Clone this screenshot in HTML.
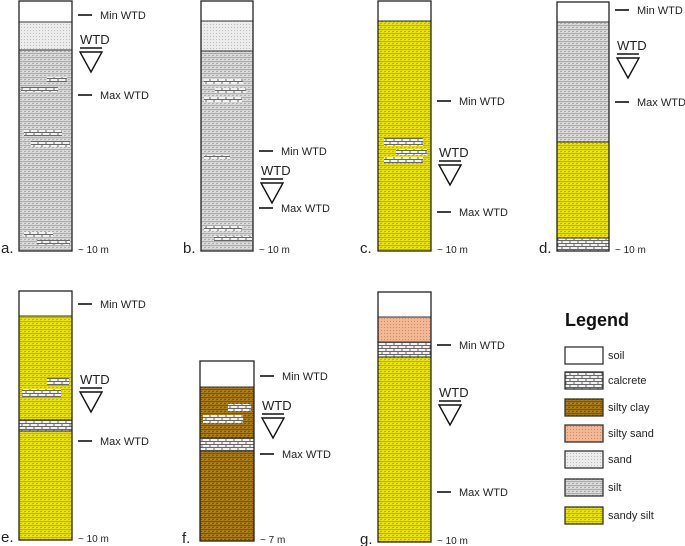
<!DOCTYPE html>
<html><head><meta charset="utf-8"><style>
html,body{margin:0;padding:0;background:#fff;width:685px;height:546px;overflow:hidden}
svg{display:block}
text{font-family:"Liberation Sans",sans-serif;fill:#222}
</style></head><body>
<svg width="685" height="546" viewBox="0 0 685 546">
<defs>
<pattern id="pSand" width="3" height="3" patternUnits="userSpaceOnUse"><rect width="3" height="3" fill="#ececec"/><rect x="0" y="0" width="1" height="1" fill="#bbb"/></pattern>
<pattern id="pSilt" width="4" height="4" patternUnits="userSpaceOnUse"><rect width="4" height="4" fill="#dcdcdc"/><path d="M0 1 L2 2 L4 1 M0 3 L2 4" stroke="#8a8a8a" stroke-width="0.6" fill="none"/></pattern>
<pattern id="pSandySilt" width="4" height="4" patternUnits="userSpaceOnUse"><rect width="4" height="4" fill="#ece600"/><path d="M0 1 L2 2 L4 1 M0 3 L2 4" stroke="#8c8a20" stroke-width="0.6" fill="none"/></pattern>
<pattern id="pClay" width="4" height="4" patternUnits="userSpaceOnUse"><rect width="4" height="4" fill="#b08010"/><path d="M0 1 L2 2 L4 1 M0 3 L2 4" stroke="#5a3e06" stroke-width="0.7" fill="none"/></pattern>
<pattern id="pSiltySand" width="3" height="3" patternUnits="userSpaceOnUse"><rect width="3" height="3" fill="#f3b893"/><rect width="1" height="1" fill="#c98a66"/></pattern>
<pattern id="pCalc" width="8" height="6" patternUnits="userSpaceOnUse"><rect width="8" height="6" fill="#f2f2f2"/><path d="M0 0.5 H8 M0 3.5 H8 M2 0.5 V3.5 M6 3.5 V6" stroke="#666" stroke-width="1" fill="none"/></pattern>
</defs>

<g id="cols"></g>

<g>
<text x="565" y="326" font-size="18" font-weight="bold" style="fill:#111">Legend</text>
</g>
<g id="leg"></g>
</svg>
<script>
const NS='http://www.w3.org/2000/svg';
const fills={soil:'#fff',calcrete:'url(#pCalc)',silty_clay:'url(#pClay)',silty_sand:'url(#pSiltySand)',sand:'url(#pSand)',silt:'url(#pSilt)',sandy_silt:'url(#pSandySilt)'};
function mk(tag,at,parent){const e=document.createElementNS(NS,tag);for(const k in at)e.setAttribute(k,at[k]);parent.appendChild(e);return e;}
const cols=[
 {id:'a',x:19,w:53,top:1,bot:251,layers:[['soil',1,22],['sand',22,50],['silt',50,251]],lens:[[77,82,47,67],[87,92,21,58],[130,136,24,62],[141,147,31,70],[232,237,24,53],[240,245,37,70]],min:15,wtd:44,max:95,depth:'~ 10 m'},
 {id:'b',x:201,w:52,top:1,bot:251,layers:[['soil',1,21],['sand',21,51],['silt',51,251]],lens:[[79,84,204,243],[88,93,215,246],[97,102,204,242],[155,159,204,230],[226,231,204,242],[236,241,214,252]],min:151,wtd:175,max:208,depth:'~ 10 m'},
 {id:'c',x:378,w:53,top:1,bot:251,layers:[['soil',1,21],['sandy_silt',21,251]],lens:[[138,146,384,423],[149,155,396,427],[157,163,384,423]],min:101,wtd:157,max:212,depth:'~ 10 m'},
 {id:'d',x:557,w:52,top:2,bot:251,layers:[['soil',2,22],['silt',22,142],['sandy_silt',142,238],['calcrete',238,251]],lens:[],min:10,wtd:50,max:102,depth:'~ 10 m'},
 {id:'e',x:19,w:53,top:291,bot:540,layers:[['soil',291,316],['sandy_silt',316,420],['calcrete',420,431],['sandy_silt',431,540]],lens:[[378,385,47,69],[389,397,22,61]],min:304,wtd:384,max:441,depth:'~ 10 m'},
 {id:'f',x:200,w:54,top:361,bot:541,layers:[['soil',361,387],['silty_clay',387,438],['calcrete',438,451],['silty_clay',451,541]],lens:[[404,411,228,251],[415,423,203,243]],min:376,wtd:410,max:454,depth:'~ 7 m'},
 {id:'g',x:378,w:53,top:292,bot:542,layers:[['soil',292,317],['silty_sand',317,342],['calcrete',342,357],['sandy_silt',357,542]],lens:[],min:345,wtd:397,max:492,depth:'~ 10 m'}
];
const G=document.getElementById('cols');
cols.forEach(c=>{
 const g=mk('g',{},G);
 
 
 c.layers.forEach(l=>{const r=mk('rect',{x:c.x,y:l[1],width:c.w,height:l[2]-l[1],fill:fills[l[0]],stroke:'#333','stroke-width':1},g);
  
  });
 c.lens.forEach(L=>{const r=mk('rect',{x:L[2],y:L[0],width:L[3]-L[2],height:L[1]-L[0],fill:'url(#pCalc)'},g);
  
  });
 mk('rect',{x:c.x,y:c.top,width:c.w,height:c.bot-c.top,fill:'none',stroke:'#222','stroke-width':1.3},g);
 const lx=c.x+c.w+6;
 [['Min WTD',c.min],['Max WTD',c.max]].forEach(m=>{
  mk('line',{x1:lx,x2:lx+14,y1:m[1],y2:m[1],stroke:'#111','stroke-width':1.6},g);
  const t=mk('text',{x:lx+22,y:m[1]+4,'font-size':11},g);t.textContent=m[0];
  
  });
 const tx=lx+2;
 const wt=mk('text',{x:tx,y:c.wtd,'font-size':13},g);wt.textContent='WTD';
 
 
 mk('line',{x1:tx,x2:tx+22,y1:c.wtd+4,y2:c.wtd+4,stroke:'#111','stroke-width':1.5},g);
 mk('path',{d:`M${tx} ${c.wtd+8} L${tx+22} ${c.wtd+8} L${tx+11} ${c.wtd+28} Z`,fill:'none',stroke:'#111','stroke-width':1.4},g);
 const d=mk('text',{x:lx,y:c.bot+2,'font-size':10},g);d.textContent=c.depth;
 
 
 const lb=mk('text',{x:c.x-18,y:c.bot+2,'font-size':15},g);lb.textContent=c.id+'.';
 
 
});
const legNames=['soil','calcrete','silty clay','silty sand','sand','silt','sandy silt'];
const legY=[347,372,399,425,451,479,507];
const LG=document.getElementById('leg');
legNames.forEach((n,i)=>{
 const r=mk('rect',{x:565,y:legY[i],width:38,height:17,fill:fills[n.replace(' ','_')],stroke:'#333','stroke-width':1.3},LG);
 
 
 const t=mk('text',{x:608,y:legY[i]+12,'font-size':11},LG);t.textContent=n;
 
 
});
</script>
</body></html>
